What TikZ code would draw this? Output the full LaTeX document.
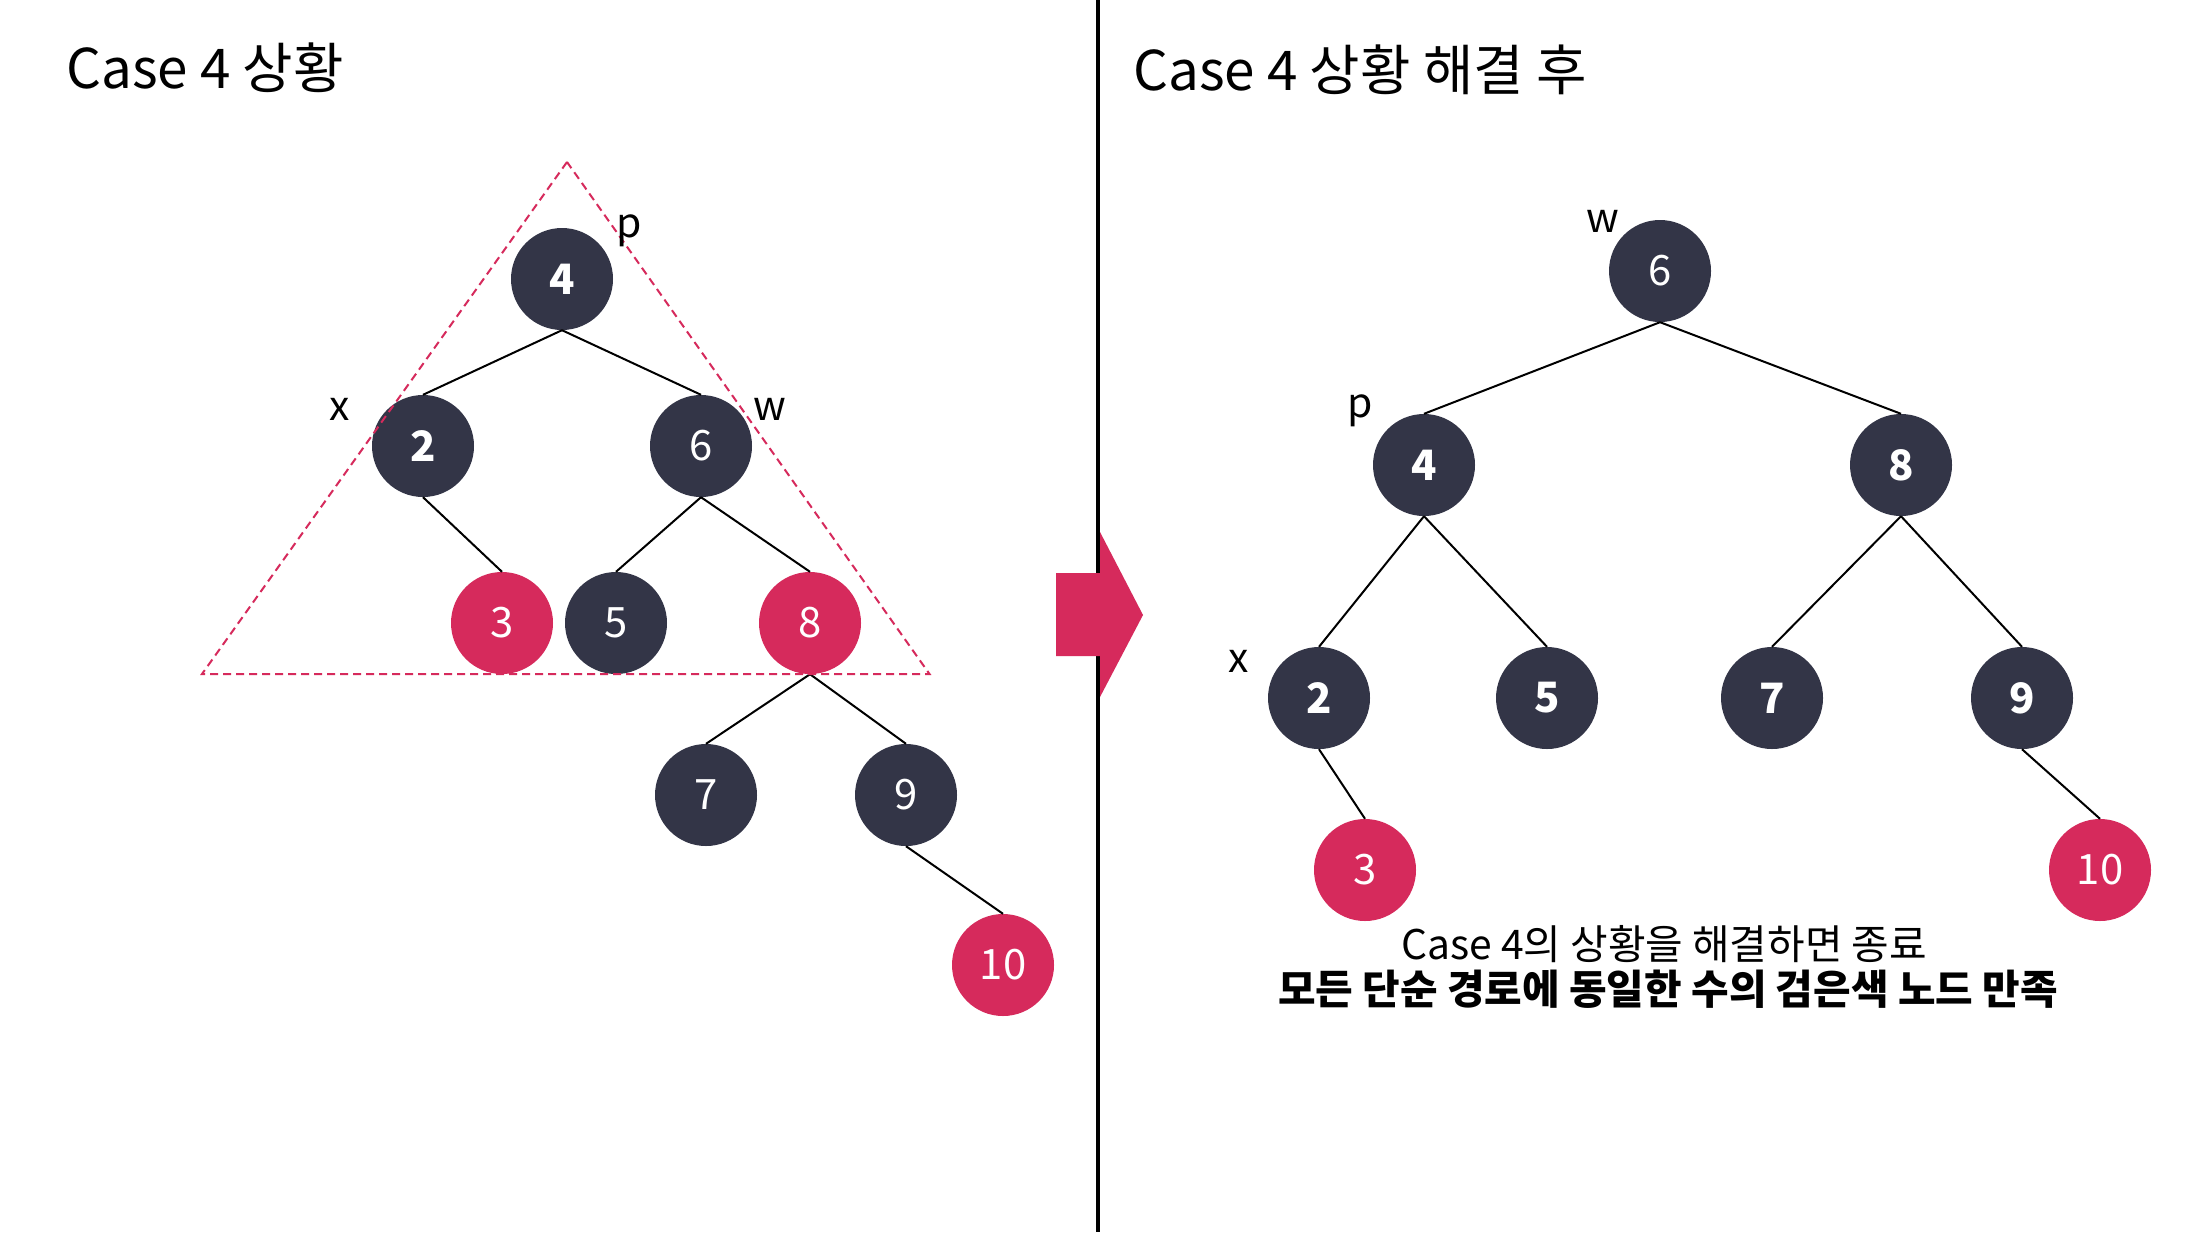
\documentclass[tikz,border=0pt]{standalone}
\usepackage{fontspec}
\setmainfont{Noto Sans CJK KR}
\definecolor{navy}{HTML}{333547}
\definecolor{rbred}{HTML}{D62A5C}
\begin{document}
\begin{tikzpicture}[x=1bp,y=-1bp,
  rbnode/.style={circle,minimum size=102bp,inner sep=0pt,text=white,font=\fontsize{42}{42}\selectfont},
  blk/.style={rbnode,fill=navy},
  rd/.style={rbnode,fill=rbred},
  bd/.style={font=\fontsize{42}{42}\selectfont\bfseries},
  edge/.style={line width=2bp,black},
  lbl/.style={anchor=base,inner sep=0pt,font=\fontsize{41}{41}\selectfont},
  ttl/.style={anchor=base west,inner sep=0pt,font=\fontsize{55}{55}\selectfont},
  msg/.style={anchor=base,inner sep=0pt,font=\fontsize{41}{41}\selectfont}]
\useasboundingbox[fill=white] (0,0) rectangle (2196,1232);

% titles
\node[ttl] (t1) at (66,88) {Case 4 상황};
\node[ttl] (t2) at (1133,90) {Case 4 상황 해결 후};

% divider
\coordinate (dtop) at (1098,0);
\coordinate (dbot) at (1098,1232);
\draw[line width=4bp] (dtop) -- (dbot);

% arrow
\fill[rbred] (1056,573) -- (1100,573) -- (1100,532) -- (1143,615) -- (1100,697) -- (1100,656) -- (1056,656) -- cycle;

% left tree
\node[blk,bd] (L4) at (562,279) {4};
\node[blk,bd] (L2) at (423,446) {2};
\node[blk] (L6) at (701,446) {6};
\node[rd] (L3) at (502,623) {3};
\node[blk] (L5) at (616,623) {5};
\node[rd] (L8) at (810,623) {8};
\node[blk] (L7) at (706,795) {7};
\node[blk] (L9) at (906,795) {9};
\node[rd] (L10) at (1003,965) {10};
\draw[edge] (L4.south) -- (L2.north);
\draw[edge] (L4.south) -- (L6.north);
\draw[edge] (L2.south) -- (L3.north);
\draw[edge] (L6.south) -- (L5.north);
\draw[edge] (L6.south) -- (L8.north);
\draw[edge] (L8.south) -- (L7.north);
\draw[edge] (L8.south) -- (L9.north);
\draw[edge] (L9.south) -- (L10.north);

% dashed triangle
\coordinate (ta) at (567,162);
\coordinate (tl) at (202,674);
\coordinate (tr) at (929.5,674);
\draw[rbred,line width=2bp,dash pattern=on 8bp off 5bp] (ta) -- (tl) -- (tr) -- cycle;

\node[lbl] (lp) at (629,237) {p};
\node[lbl] (lx) at (339.5,420) {x};
\node[lbl] (lw) at (770,420) {w};

% right tree
\node[blk] (R6) at (1660,271) {6};
\node[blk,bd] (R4) at (1424,465) {4};
\node[blk,bd] (R8) at (1901,465) {8};
\node[blk,bd] (R2) at (1319,698) {2};
\node[blk,bd] (R5) at (1547,698) {5};
\node[blk,bd] (R7) at (1772,698) {7};
\node[blk,bd] (R9) at (2022,698) {9};
\node[rd] (R3) at (1365,870) {3};
\node[rd] (R10) at (2100,870) {10};
\draw[edge] (R6.south) -- (R4.north);
\draw[edge] (R6.south) -- (R8.north);
\draw[edge] (R4.south) -- (R2.north);
\draw[edge] (R4.south) -- (R5.north);
\draw[edge] (R8.south) -- (R7.north);
\draw[edge] (R8.south) -- (R9.north);
\draw[edge] (R2.south) -- (R3.north);
\draw[edge] (R9.south) -- (R10.north);

\node[lbl] (rw) at (1603,232) {w};
\node[lbl] (rp) at (1360,417) {p};
\node[lbl] (rx) at (1239,672) {x};

% message
\node[msg] (m1) at (1664,959) {Case 4의 상황을 해결하면 종료};
\node[msg,font=\fontsize{41}{41}\selectfont\bfseries] (m2) at (1668,1004) {모든 단순 경로에 동일한 수의 검은색 노드 만족};
\end{tikzpicture}
\end{document}
